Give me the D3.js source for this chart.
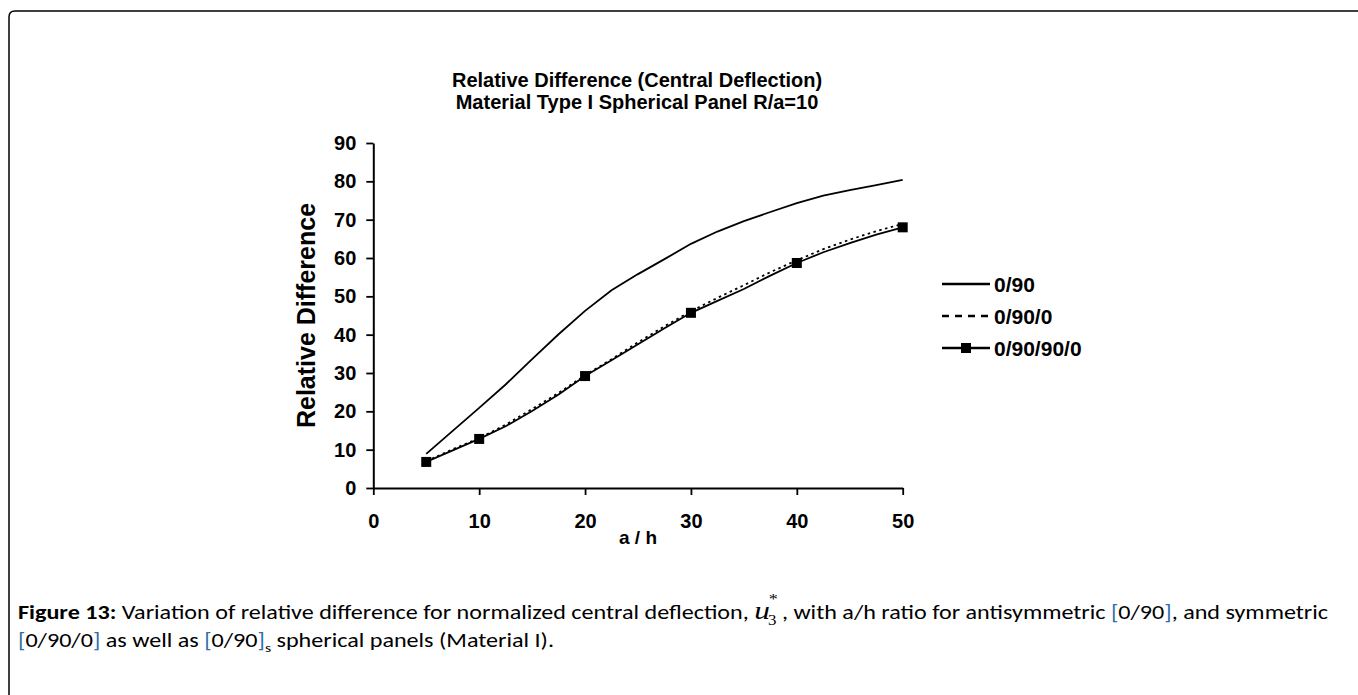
<!DOCTYPE html>
<html>
<head>
<meta charset="utf-8">
<script src="https://cdn.jsdelivr.net/npm/d3@7"></script>
<style>
  body { margin: 0; background: #fff; }
  svg { display: block; }
</style>
</head>
<body>
<div id="chart"></div>
<script>
// a/h values along each curve
const ahValues = [5, 7.5, 10, 12.5, 15, 17.5, 20, 22.5, 25, 27.5, 30, 32.5, 35, 37.5, 40, 42.5, 45, 47.5, 50];
const diff090 = [8.9, 14.9, 20.9, 27.0, 33.6, 40.1, 46.2, 51.6, 55.8, 59.7, 63.7, 66.9, 69.6, 72.0, 74.3, 76.3, 77.7, 79.0, 80.4];
const diff0900 = [7.0, 10.1, 13.0, 16.5, 20.6, 24.8, 29.4, 33.6, 38.0, 42.2, 46.1, 49.6, 52.9, 56.3, 59.4, 62.3, 64.8, 67.0, 68.9];
const diff090900 = [6.8, 9.8, 12.8, 16.1, 20.1, 24.4, 29.2, 33.3, 37.5, 41.7, 45.7, 48.8, 51.9, 55.4, 58.7, 61.5, 63.9, 66.1, 68.0];
// points that carry a square marker
const markerAh = [5, 10, 20, 30, 40, 50];
const markerDiff = [6.8, 12.8, 29.2, 45.7, 58.7, 68.0];

const xTicks = [0, 10, 20, 30, 40, 50];
const yTicks = [0, 10, 20, 30, 40, 50, 60, 70, 80, 90];
const seriesNames = ["0/90", "0/90/0", "0/90/90/0"];

const W = 1358, H = 695;
const svg = d3.select("#chart").append("svg")
    .attr("width", W).attr("height", H);

// outer frame, open at right and bottom
svg.append("path")
    .attr("d", "M9,720 L9,17 Q9,11 15,11 L1370,11")
    .attr("fill", "none").attr("stroke", "#000").attr("stroke-width", 1.5);

const x = d3.scaleLinear().domain([0, 50]).range([373.3, 902.7]);
const y = d3.scaleLinear().domain([0, 90]).range([488, 143]);

const font = "'Liberation Sans', Arimo, Arial, sans-serif";

// titles
svg.append("text").text("Relative Difference (Central Deflection)")
    .attr("x", 637).attr("y", 87)
    .attr("text-anchor", "middle").style("font-family", font)
    .style("font-size", "20px").style("font-weight", 700);
svg.append("text").text("Material Type I Spherical Panel R/a=10")
    .attr("x", 637).attr("y", 109)
    .attr("text-anchor", "middle").style("font-family", font)
    .style("font-size", "20px").style("font-weight", 700);

// axes
const xAxis = svg.append("g")
    .attr("transform", `translate(0, ${y(0)})`)
    .call(d3.axisBottom(x).tickValues(xTicks).tickSize(7).tickPadding(19).tickSizeOuter(0));
const yAxis = svg.append("g")
    .attr("transform", `translate(${x(0)}, 0)`)
    .call(d3.axisLeft(y).tickValues(yTicks).tickSize(7).tickPadding(10).tickSizeOuter(0));

[xAxis, yAxis].forEach(g => {
    g.select(".domain").attr("stroke", "#000").attr("stroke-width", 2);
    g.selectAll(".tick line").attr("stroke", "#000").attr("stroke-width", 1.8);
    g.selectAll(".tick text")
        .style("font-family", font).style("font-size", "20px")
        .style("font-weight", 700).attr("fill", "#000");
});

svg.append("text").text("a / h")
    .attr("x", x(25)).attr("y", 544)
    .attr("text-anchor", "middle").style("font-family", font)
    .style("font-size", "19px").style("font-weight", 700);

svg.append("text").text("Relative Difference")
    .attr("transform", `translate(315, ${(y(0) + y(90)) / 2}) rotate(-90)`)
    .attr("text-anchor", "middle").style("font-family", font)
    .style("font-size", "25px").style("font-weight", 700);

// lines
const line = d3.line().x(d => x(d[0])).y(d => y(d[1]));
const plotG = svg.append("g");

plotG.append("path")
    .datum(ahValues.map((a, i) => [a, diff0900[i]]))
    .attr("d", line).attr("fill", "none")
    .attr("stroke", "#000").attr("stroke-width", 1.8)
    .attr("stroke-dasharray", "2.5,3.5");

plotG.append("path")
    .datum(ahValues.map((a, i) => [a, diff090[i]]))
    .attr("d", line).attr("fill", "none")
    .attr("stroke", "#000").attr("stroke-width", 1.8);

plotG.append("path")
    .datum(ahValues.map((a, i) => [a, diff090900[i]]))
    .attr("d", line).attr("fill", "none")
    .attr("stroke", "#000").attr("stroke-width", 1.8);

const ms = 10;
plotG.selectAll(".marker")
    .data(markerAh.map((a, i) => [a, markerDiff[i]]))
    .enter().append("rect")
    .attr("class", "marker")
    .attr("x", d => x(d[0]) - ms / 2)
    .attr("y", d => y(d[1]) - ms / 2)
    .attr("width", ms).attr("height", ms)
    .attr("fill", "#000");

// legend
const legend = svg.append("g").attr("transform", "translate(942, 284)");
const rowGap = 32;
seriesNames.forEach((name, i) => {
    const row = legend.append("g").attr("transform", `translate(0, ${i * rowGap})`);
    row.append("line")
        .attr("x1", 0).attr("x2", 48).attr("y1", 0).attr("y2", 0)
        .attr("stroke", "#000").attr("stroke-width", 2.4)
        .attr("stroke-dasharray", i === 1 ? "7,6" : null);
    if (i === 2) {
        row.append("rect").attr("x", 19).attr("y", -5)
            .attr("width", 10).attr("height", 10).attr("fill", "#000");
    }
    row.append("text").text(name)
        .attr("x", 52).attr("y", 0).attr("dy", "0.36em")
        .style("font-family", font).style("font-size", "21px")
        .style("font-weight", 700);
});

// caption (Calibri-like, stretched to the column width)
const capFont = "Carlito, Lato, 'Open Sans', sans-serif";
const serif = "'Liberation Serif', 'DejaVu Serif', serif";
const blue = "#2f6fa8";
const capG = svg.append("g");
const cap1 = capG.append("text").attr("x", 0).attr("y", 619)
    .style("font-family", capFont).style("font-size", "20px").attr("fill", "#000");
cap1.append("tspan").text("Figure 13:").style("font-weight", 700);
cap1.append("tspan").text(" Variation of relative difference for normalized central deflection, ");
cap1.append("tspan").text("u").style("font-family", serif)
    .style("font-style", "italic").style("font-size", "26px");
cap1.append("tspan").text("*").attr("dx", -1).attr("dy", -15)
    .style("font-family", serif).style("font-size", "15px");
cap1.append("tspan").text("3").attr("dx", -8).attr("dy", 21)
    .style("font-family", serif).style("font-size", "14px");
cap1.append("tspan").text(" , with a/h ratio for antisymmetric ").attr("dy", -6);
cap1.append("tspan").text("[").attr("fill", blue);
cap1.append("tspan").text("0/90");
cap1.append("tspan").text("]").attr("fill", blue);
cap1.append("tspan").text(", and symmetric");

const cap2 = capG.append("text").attr("x", 0).attr("y", 647)
    .style("font-family", capFont).style("font-size", "20px").attr("fill", "#000");
cap2.append("tspan").text("[").attr("fill", blue);
cap2.append("tspan").text("0/90/0");
cap2.append("tspan").text("]").attr("fill", blue);
cap2.append("tspan").text(" as well as ");
cap2.append("tspan").text("[").attr("fill", blue);
cap2.append("tspan").text("0/90");
cap2.append("tspan").text("]").attr("fill", blue);
cap2.append("tspan").text("s").attr("dy", 5).style("font-size", "13px");
cap2.append("tspan").text(" spherical panels (Material I).").attr("dy", -5);

const natural = cap1.node().getComputedTextLength();
const sx = (1340 - 18) / natural;
capG.attr("transform", `translate(18, 0) scale(${sx}, 1)`);
</script>
</body>
</html>
